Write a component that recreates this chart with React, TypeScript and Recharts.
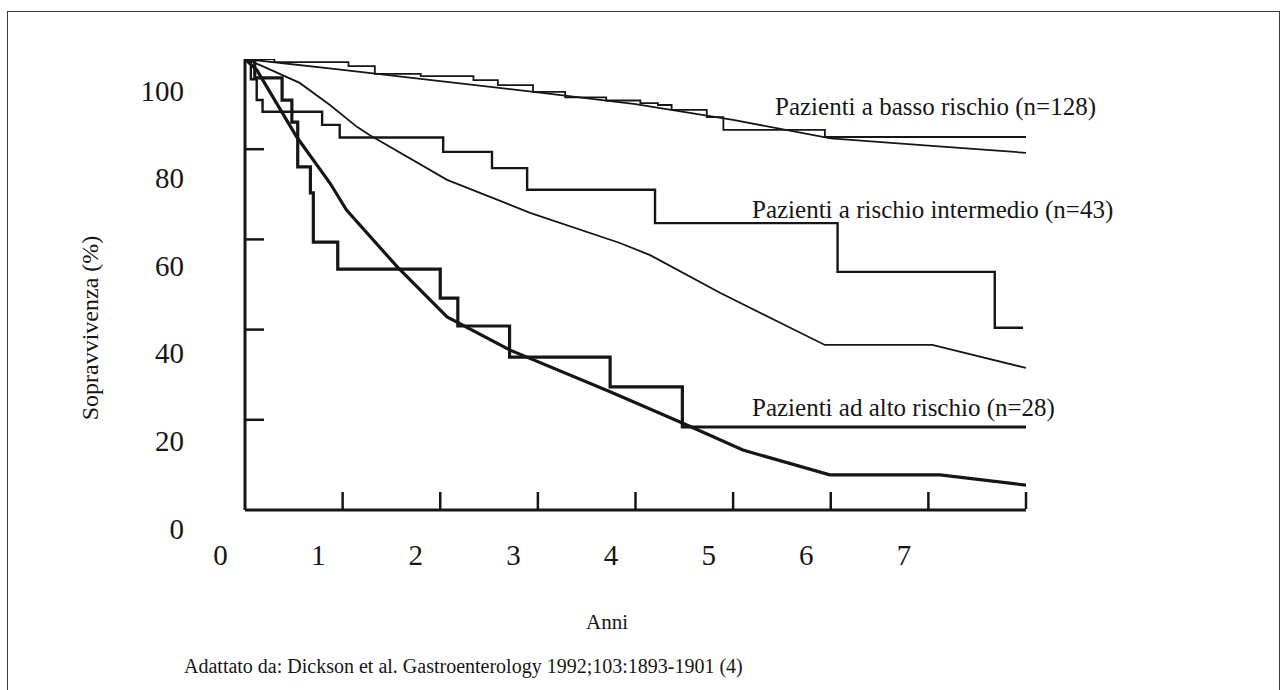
import React from 'react';
import { LineChart, Line, XAxis, YAxis } from 'recharts';

// axis ticks drawn on the frame, and the (offset) printed labels
const tickYears = [1, 2, 3, 4, 5, 6, 7, 8];
const yearLabels = [0, 1, 2, 3, 4, 5, 6, 7];
const tickPct = [20, 40, 60, 80];
const pctLabels = [0, 20, 40, 60, 80, 100];
const yearLabelDomain = [0.25, 8.25];
const pctLabelDomain = [4.18, 107.15];

// low risk (n=128): observed (Kaplan-Meier) and predicted
const lowObsT = [0, 0.3, 1.06, 1.33, 1.8, 2.34, 2.59, 2.95, 3.28, 3.7, 4.05, 4.23, 4.37, 4.73, 4.9, 5.94, 8];
const lowObsS = [100, 99.3, 98.4, 96.7, 96.2, 95.3, 94.2, 92.7, 91.5, 90.8, 90.2, 89.8, 88.7, 87.1, 84.3, 82.7, 82.7];
const lowPredT = [0, 1, 2, 3, 4, 5, 6, 7, 8];
const lowPredS = [100, 97.6, 95.1, 92.6, 90, 86.5, 82.4, 80.8, 79.2];

// intermediate risk (n=43)
const midObsT = [0, 0.06, 0.12, 0.18, 0.79, 0.97, 2.03, 2.53, 2.89, 4.2, 6.07, 7.68, 7.97];
const midObsS = [100, 95.5, 90.9, 88.3, 85.4, 82.6, 79.4, 75.8, 71.0, 63.6, 52.8, 40.4, 40.4];
const midPredT = [0, 0.15, 0.56, 0.87, 1.15, 1.28, 2.07, 2.92, 3.84, 4.15, 4.87, 5.94, 7.04, 8];
const midPredS = [100, 98.7, 94.7, 89.8, 84.9, 83.1, 73.2, 65.9, 59.2, 56.5, 48.1, 36.6, 36.6, 31.5];

// high risk (n=28)
const highObsT = [0, 0.1, 0.38, 0.48, 0.54, 0.67, 0.7, 0.95, 2.0, 2.18, 2.71, 3.74, 4.48, 8];
const highObsS = [100, 95.8, 90.9, 86.0, 76.1, 70.3, 59.4, 53.4, 47.0, 40.8, 33.9, 27.3, 18.4, 18.4];
const highPredT = [0, 0.12, 0.53, 0.87, 1.04, 1.56, 2.07, 2.71, 3.74, 4.48, 5.1, 5.99, 7.12, 8];
const highPredS = [100, 97.6, 82.7, 72.5, 66.5, 53.9, 42.8, 35.5, 26.2, 19.3, 13.3, 7.8, 7.8, 5.5];

const toRows = (t: number[], s: number[]) => t.map((v, i) => ({ t: v, s: s[i] }));

const serif = '"Liberation Serif", "Times New Roman", serif';
const ink = '#161616';

function XTickMark(props: any) {
  const { x, y } = props;
  return <line x1={x} x2={x} y1={y - 1} y2={y - 18} stroke={ink} strokeWidth={2.5} />;
}

function YTickMark(props: any) {
  const { x, y } = props;
  return <line x1={x + 1} x2={x + 19} y1={y} y2={y} stroke={ink} strokeWidth={2.5} />;
}

const note = (left: number, top: number, size: number): React.CSSProperties => ({
  position: 'absolute',
  left,
  top,
  fontFamily: serif,
  fontSize: size,
  lineHeight: 1,
  color: ink,
  whiteSpace: 'nowrap',
});

export default function App() {
  return (
    <div style={{ position: 'absolute', left: 0, top: 0, width: 1281, height: 690, background: '#fff', overflow: 'hidden' }}>
      <div style={{ position: 'absolute', left: 7, top: 11, width: 1271, height: 720, border: '1.5px solid #3a3a3a' }} />
      <LineChart width={1281} height={690} margin={{ top: 59, right: 255, bottom: 99, left: 144 }}>
        <XAxis
          type="number"
          dataKey="t"
          domain={[0, 8]}
          allowDataOverflow
          ticks={tickYears}
          interval={0}
          height={1}
          tickSize={0}
          tickMargin={0}
          tickLine={false}
          tick={<XTickMark />}
          axisLine={{ stroke: ink, strokeWidth: 3 }}
        />
        <XAxis
          xAxisId="lbl"
          type="number"
          dataKey="t"
          domain={yearLabelDomain}
          allowDataOverflow
          ticks={yearLabels}
          interval={0}
          height={80}
          tickSize={0}
          tickMargin={33}
          tickLine={false}
          axisLine={false}
          tick={{ fontSize: 29, fontFamily: serif, fill: ink }}
        />
        <YAxis
          type="number"
          domain={[0, 100]}
          allowDataOverflow
          ticks={tickPct}
          interval={0}
          width={1}
          tickSize={0}
          tickMargin={0}
          tickLine={false}
          tick={<YTickMark />}
          axisLine={{ stroke: ink, strokeWidth: 3 }}
        />
        <YAxis
          yAxisId="lbl"
          type="number"
          domain={pctLabelDomain}
          allowDataOverflow
          ticks={pctLabels}
          interval={0}
          width={100}
          tickSize={0}
          tickMargin={60}
          tickLine={false}
          axisLine={false}
          tick={{ fontSize: 29, fontFamily: serif, fill: ink }}
        />
        <Line data={toRows(lowPredT, lowPredS)} dataKey="s" type="linear" stroke={ink} strokeWidth={1.8} dot={false} isAnimationActive={false} />
        <Line data={toRows(lowObsT, lowObsS)} dataKey="s" type="stepAfter" stroke={ink} strokeWidth={1.8} dot={false} isAnimationActive={false} />
        <Line data={toRows(midPredT, midPredS)} dataKey="s" type="linear" stroke={ink} strokeWidth={1.8} dot={false} isAnimationActive={false} />
        <Line data={toRows(midObsT, midObsS)} dataKey="s" type="stepAfter" stroke={ink} strokeWidth={2.4} dot={false} isAnimationActive={false} />
        <Line data={toRows(highPredT, highPredS)} dataKey="s" type="linear" stroke={ink} strokeWidth={3.2} dot={false} isAnimationActive={false} />
        <Line data={toRows(highObsT, highObsS)} dataKey="s" type="stepAfter" stroke={ink} strokeWidth={3.2} dot={false} isAnimationActive={false} />
      </LineChart>

      <div style={note(775, 94, 25)}>Pazienti a basso rischio (n=128)</div>
      <div style={note(752, 197, 25)}>Pazienti a rischio intermedio (n=43)</div>
      <div style={note(752, 395, 25)}>Pazienti ad alto rischio (n=28)</div>
      <div
        style={{
          ...note(90, 328, 24),
          transform: 'translate(-50%, -50%) rotate(-90deg)',
        }}
      >
        Sopravvivenza (%)
      </div>
      <div style={{ ...note(607, 612, 21), transform: 'translateX(-50%)' }}>Anni</div>
      <div style={note(184, 656, 20)}>Adattato da: Dickson et al. Gastroenterology 1992;103:1893-1901 (4)</div>
    </div>
  );
}
